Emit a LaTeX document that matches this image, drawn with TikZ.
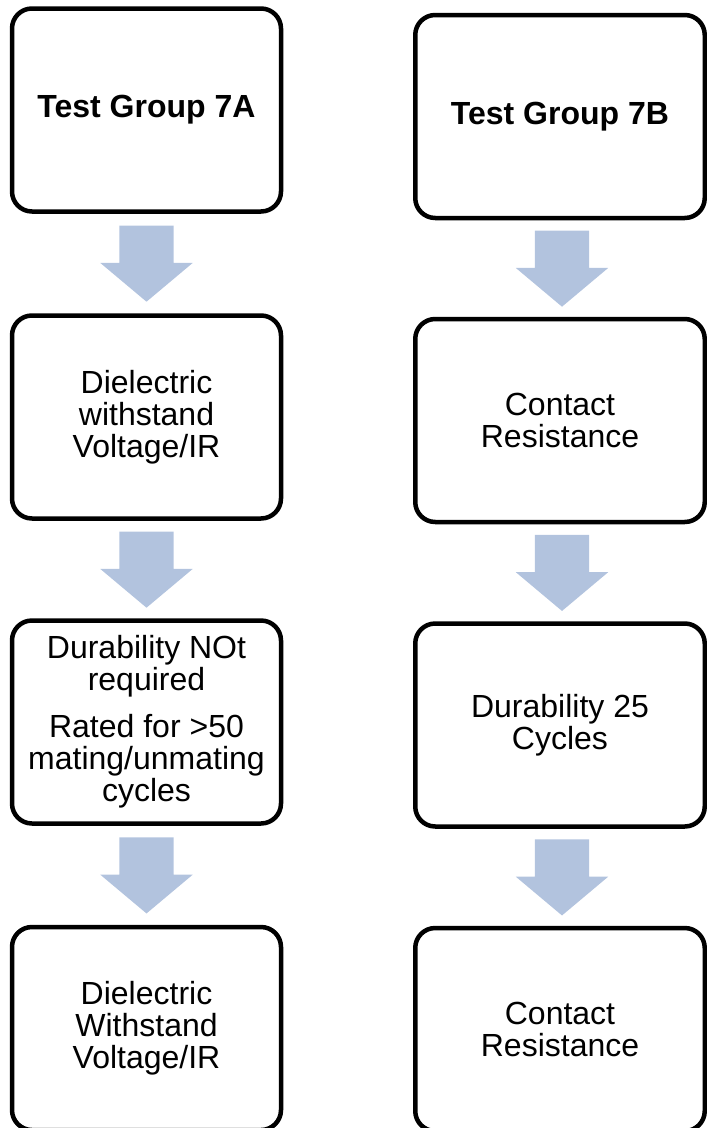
\documentclass[tikz,border=0pt]{standalone}
\usepackage{fontspec}
\setmainfont{Liberation Sans}
\usetikzlibrary{shapes.arrows,calc}
\definecolor{arrowblue}{RGB}{178,195,222}

\begin{document}
\begin{tikzpicture}[x=1pt,y=-1pt,
  box/.style={draw=black, line width=4.5pt, rounded corners=20pt, fill=white,
    align=center, inner sep=0pt, minimum width=269pt, minimum height=203pt,
    font=\fontsize{32}{32}\selectfont},
  boxB/.style={box, minimum width=289.5pt},
  down/.style={single arrow, fill=arrowblue, draw=none, rotate=-90, anchor=tail,
    minimum height=76pt, inner xsep=0pt, inner ysep=27pt,
    single arrow head extend=19pt, single arrow tip angle=100}]
\useasboundingbox (0,0) rectangle (707,1128);
%
% Test Group 7A
\node[box] (g7a) at (146.5,110) {\textbf{Test Group 7A}};
\node[box] (dw7a) at (146.5,417) {Dielectric\\withstand\\Voltage/IR};
\node[box] (dur7a) at (146.5,722) {Durability NOt\\required\\[15pt]Rated for >50\\mating/unmating\\cycles};
\node[box] (dwb7a) at (146.5,1028.5) {Dielectric\\Withstand\\Voltage/IR};
%
% Test Group 7B
\node[boxB] (g7b) at (560,116.5) {\textbf{Test Group 7B}};
\node[boxB] (cr7b) at (560,420.5) {Contact\\Resistance};
\node[boxB] (dur7b) at (560,725) {Durability 25\\Cycles};
\node[boxB] (crb7b) at (560,1029.5) {Contact\\Resistance};
%
\node[down] (a1) at ($(g7a.south)!0.5!(dw7a.north)+(0,-38)$) {};
\node[down] (a2) at ($(dw7a.south)!0.5!(dur7a.north)+(0,-38)$) {};
\node[down] (a3) at ($(dur7a.south)!0.5!(dwb7a.north)+(0,-38)$) {};
\node[down] (b1) at ($(g7b.south)!0.5!(cr7b.north)+(2,-38)$) {};
\node[down] (b2) at ($(cr7b.south)!0.5!(dur7b.north)+(2,-38)$) {};
\node[down] (b3) at ($(dur7b.south)!0.5!(crb7b.north)+(2,-38)$) {};
%
\end{tikzpicture}
\end{document}
